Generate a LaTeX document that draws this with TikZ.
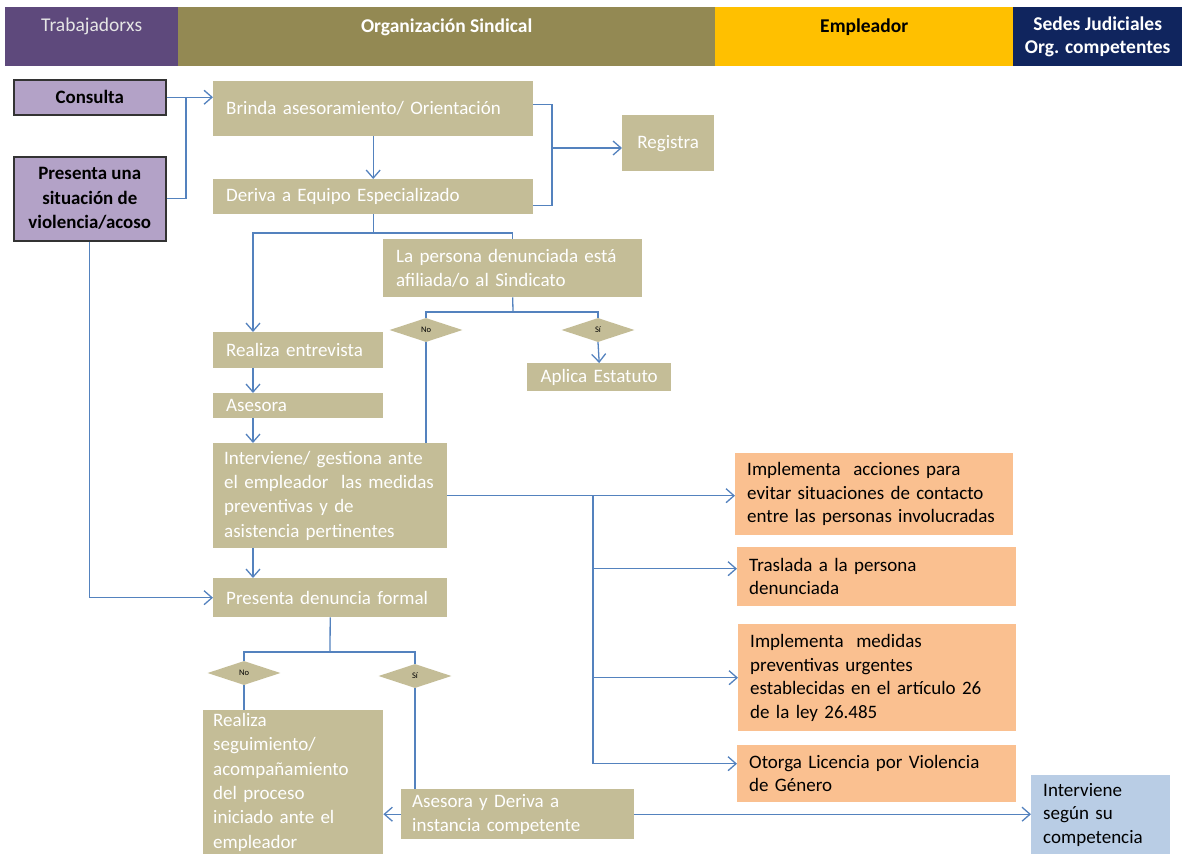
\documentclass[tikz,border=0pt]{standalone}
\usepackage{fontspec}
\setmainfont{Carlito}
\usetikzlibrary{arrows.meta,shapes.geometric}

\definecolor{trabcol}{RGB}{94,73,124}
\definecolor{sindcol}{RGB}{147,137,83}
\definecolor{emplcol}{RGB}{255,192,0}
\definecolor{sedecol}{RGB}{16,37,94}
\definecolor{lilafill}{RGB}{179,162,199}
\definecolor{tanfill}{RGB}{196,189,151}
\definecolor{orangefill}{RGB}{250,192,144}
\definecolor{bluefill}{RGB}{185,205,229}
\definecolor{linkblue}{RGB}{84,130,190}

\tikzset{
  head/.style={anchor=north west, inner sep=0pt, minimum height=59pt, align=center, font=\fontsize{19.5}{23}\selectfont},
  tanbox/.style={fill=tanfill, text=white, anchor=north west, inner xsep=13pt, inner ysep=0pt, align=left, font=\fontsize{19}{24.3}\selectfont},
  orangebox/.style={fill=orangefill, text=black, anchor=north west, inner xsep=12pt, inner ysep=0pt, align=left, font=\fontsize{19}{23.5}\selectfont},
  lilabox/.style={draw=black!80, line width=1.5pt, fill=lilafill, anchor=north west, inner sep=0pt, align=center, font=\bfseries\fontsize{18.9}{24.5}\selectfont},
  decision/.style={diamond, aspect=3, fill=tanfill, inner sep=0pt, minimum width=73pt, minimum height=24pt, font=\fontsize{8.5}{9}\selectfont},
  conn/.style={draw=linkblue, line width=1.3pt},
  arr/.style={conn, -{Straight Barb[length=8pt,width=14pt]}},
}

\begin{document}
\begin{tikzpicture}[x=1pt, y=-1pt]
    \useasboundingbox (0,0) rectangle (1182,854);

    % column headers
    \node[head, fill=trabcol, text=white!90!black, minimum width=173pt] (hTrab) at (5,7) {Trabajadorxs\\ \mbox{}};
    \node[head, fill=sindcol, text=white, minimum width=537pt, font=\bfseries\fontsize{19.5}{23}\selectfont] (hSind) at (178,7) {Organización Sindical\\ \mbox{}};
    \node[head, fill=emplcol, text=black, minimum width=298pt, font=\bfseries\fontsize{19.5}{23}\selectfont] (hEmpl) at (715,7) {Empleador\\ \mbox{}};
    \node[head, fill=sedecol, text=white, minimum width=169pt, font=\bfseries\fontsize{19.5}{23}\selectfont] (hSede) at (1013,7) {Sedes Judiciales\\ Org. competentes};

    % trabajadorxs
    \node[lilabox, minimum width=152pt, minimum height=35pt] (consulta) at (13,79) {Consulta};
    \node[lilabox, minimum width=152pt, minimum height=84pt] (situacion) at (13,156) {Presenta una\\ situación de\\ violencia/acoso};

    % organizacion sindical
    \node[tanbox, text width=294pt, minimum height=55pt] (brinda) at (213,81) {Brinda asesoramiento/ Orientación};
    \node[tanbox, text width=294pt, minimum height=35pt] (deriva) at (213,179) {Deriva a Equipo Especializado};
    \node[tanbox, text width=66pt, minimum height=56pt, align=center] (registra) at (622,115) {Registra};
    \node[tanbox, text width=233pt, minimum height=58pt] (persona) at (383,239) {La persona denunciada está\\ afiliada/o al Sindicato};
    \node[tanbox, text width=144pt, minimum height=36pt] (entrevista) at (213,332) {Realiza entrevista};
    \node[tanbox, text width=144pt, minimum height=25pt] (asesora) at (213,393) {Asesora};
    \node[tanbox, inner xsep=11pt, text width=212pt, minimum height=105pt] (interviene) at (213,443) {\mbox{Interviene/ gestiona ante}\\ \mbox{el empleador\ \ las medidas}\\ preventivas y de\\ asistencia pertinentes};
    \node[tanbox, text width=208pt, minimum height=39pt] (denuncia) at (213,578) {Presenta denuncia formal};
    \node[tanbox, inner xsep=6pt, text width=132pt, minimum height=28pt, align=center] (estatuto) at (527,363) {\mbox{Aplica Estatuto}};
    \node[tanbox, inner xsep=10pt, text width=160pt, minimum height=144pt] (seguimiento) at (203,710) {Realiza\\ seguimiento/\\ acompañamiento\\ del proceso\\ iniciado ante el\\ empleador};
    \node[tanbox, inner xsep=11pt, text width=211pt, minimum height=50pt] (asesoraderiva) at (401,789) {Asesora y Deriva a\\ instancia competente};

    \node[decision] (noA) at (426,330) {No};
    \node[decision] (siA) at (598,330) {Sí};
    \node[decision] (noB) at (244,673) {No};
    \node[decision] (siB) at (415,676) {Sí};

    % empleador
    \node[orangebox, text width=254pt, minimum height=82pt] (acciones) at (735,453) {Implementa\ \ acciones para\\ evitar situaciones de contacto\\ entre las personas involucradas};
    \node[orangebox, text width=255pt, minimum height=59pt] (traslada) at (737,547) {Traslada a la persona\\ denunciada};
    \node[orangebox, text width=254pt, minimum height=107pt] (medidas) at (738,624) {Implementa\ \ medidas\\ preventivas urgentes\\ establecidas en el artículo 26\\ de la ley 26.485};
    \node[orangebox, text width=255pt, minimum height=57pt] (otorga) at (737,745) {Otorga Licencia por Violencia\\ de Género};

    % sedes judiciales
    \node[orangebox, fill=bluefill, text width=115pt, minimum height=79pt] (competencia) at (1031,775) {Interviene\\ según su\\ competencia};

    % connectors
    \coordinate (jl) at (186,97);
    \coordinate (jr) at (552,148);
    \coordinate (j3) at (253,233);
    \coordinate (j4) at (513,312);
    \coordinate (j5) at (593,495.5);
    \coordinate (j6) at (330,652);

    \draw[arr] (consulta.east) -- (consulta.east -| brinda.west);
    \draw[conn] (situacion.east) -| (jl);
    \draw[arr] (brinda) -- (deriva);
    \draw[conn] ([yshift=4pt]brinda.east) -| (jr) |- ([yshift=-9pt]deriva.east);
    \draw[arr] (jr) -- (jr -| registra.west);

    \draw[conn] (deriva.south) -- (deriva.south |- j3);
    \draw[arr] (persona.north) |- (j3) -- (j3 |- entrevista.north);
    \draw[arr] (j3 |- entrevista.south) -- (j3 |- asesora.north);
    \draw[arr] (j3 |- asesora.south) -- (j3 |- interviene.north);

    \draw[conn] (persona.south) -- (j4);
    \draw[conn] (noA.north) |- (j4) -| (siA.north);
    \draw[arr] (siA.south) -- (estatuto.north);
    \draw[conn] (noA.south) -- (noA.south |- interviene.north);

    \draw[arr] (j3 |- interviene.south) -- (j3 |- denuncia.north);
    \draw[arr] (situacion.south) |- (denuncia.west);

    \draw[arr] (interviene.east) -- (interviene.east -| acciones.west);
    \draw[arr] (j5) |- ([yshift=8pt]traslada.west);
    \draw[arr] (j5) |- (medidas.west);
    \draw[arr] (j5) |- ([yshift=10pt]otorga.west);

    \draw[conn] (denuncia.south) -- (j6);
    \draw[conn] (noB.north) |- (j6) -| (siB.north);
    \draw[conn] (noB.south) -- (noB.south |- seguimiento.north);
    \draw[conn] (siB.south) -- (siB.south |- asesoraderiva.north);
    \draw[arr] (asesoraderiva.west) -- (asesoraderiva.west -| seguimiento.east);
    \draw[arr] (asesoraderiva.east) -- (asesoraderiva.east -| competencia.west);
\end{tikzpicture}
\end{document}
